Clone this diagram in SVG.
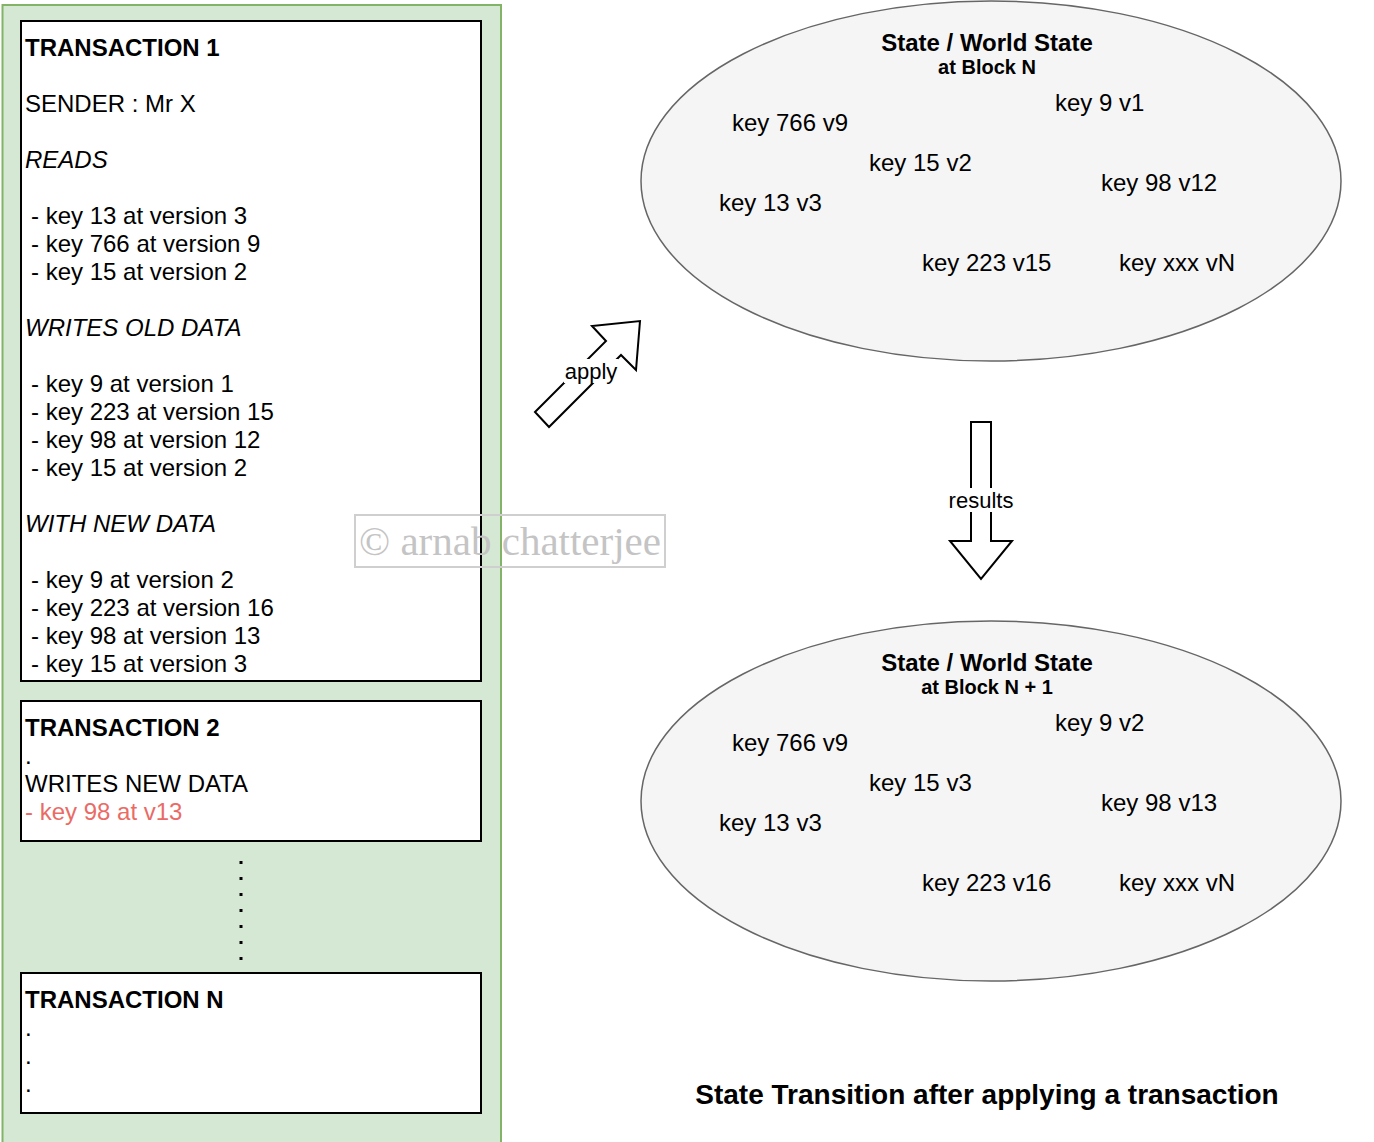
<svg xmlns="http://www.w3.org/2000/svg" width="1374" height="1142" viewBox="0 0 1374 1142">
<style>
text{font-family:"Liberation Sans",Arial,Helvetica,sans-serif;fill:#000}
.t{font-size:24px}
.b{font-weight:bold}
.i{font-style:italic}
.box{fill:#fff;stroke:#000;stroke-width:2}
.ell{fill:#f5f5f5;stroke:#666;stroke-width:1.5}
.arr{fill:#fff;stroke:#000;stroke-width:2;stroke-linejoin:miter}
.lbl{font-size:22px;text-anchor:middle}
.red{fill:#ea6b66}
</style>
<rect width="1374" height="1142" fill="#fff"/>
<g id="container">
<rect x="2.5" y="5" width="498.5" height="1145" fill="#d5e8d4" stroke="#82b366" stroke-width="2"/>
</g>
<g id="tx1">
<rect class="box" x="21" y="21" width="460" height="660"/>
<text class="t b" x="25" y="56">TRANSACTION 1</text>
<text class="t" x="25" y="112">SENDER : Mr X</text>
<text class="t i" x="25" y="168">READS</text>
<text class="t" x="31" y="224">- key 13 at version 3</text>
<text class="t" x="31" y="252">- key 766 at version 9</text>
<text class="t" x="31" y="280">- key 15 at version 2</text>
<text class="t i" x="25" y="336">WRITES OLD DATA</text>
<text class="t" x="31" y="392">- key 9 at version 1</text>
<text class="t" x="31" y="420">- key 223 at version 15</text>
<text class="t" x="31" y="448">- key 98 at version 12</text>
<text class="t" x="31" y="476">- key 15 at version 2</text>
<text class="t i" x="25" y="532">WITH NEW DATA</text>
<text class="t" x="31" y="588">- key 9 at version 2</text>
<text class="t" x="31" y="616">- key 223 at version 16</text>
<text class="t" x="31" y="644">- key 98 at version 13</text>
<text class="t" x="31" y="672">- key 15 at version 3</text>
</g>
<g id="tx2">
<rect class="box" x="21" y="701" width="460" height="140"/>
<text class="t b" x="25" y="736">TRANSACTION 2</text>
<text class="t" x="25" y="764">.</text>
<text class="t" x="25" y="792">WRITES NEW DATA</text>
<text class="t red" x="25" y="820">- key 98 at v13</text>
</g>
<g id="txN">
<rect class="box" x="21" y="973" width="460" height="140"/>
<text class="t b" x="25" y="1008">TRANSACTION N</text>
<text class="t" x="25" y="1036">.</text>
<text class="t" x="25" y="1064">.</text>
<text class="t" x="25" y="1092">.</text>
</g>
<g id="state-n">
<ellipse class="ell" cx="991" cy="181" rx="350" ry="180"/>
<text class="t b" x="987" y="51" text-anchor="middle">State / World State</text>
<text class="b" x="987" y="74" font-size="20" text-anchor="middle">at Block N</text>
<text class="t" x="1055" y="111">key 9 v1</text>
<text class="t" x="732" y="131">key 766 v9</text>
<text class="t" x="869" y="171">key 15 v2</text>
<text class="t" x="1101" y="191">key 98 v12</text>
<text class="t" x="719" y="211">key 13 v3</text>
<text class="t" x="922" y="271">key 223 v15</text>
<text class="t" x="1119" y="271">key xxx vN</text>
</g>
<g id="state-n1">
<ellipse class="ell" cx="991" cy="801" rx="350" ry="180"/>
<text class="t b" x="987" y="671" text-anchor="middle">State / World State</text>
<text class="b" x="987" y="694" font-size="20" text-anchor="middle">at Block N + 1</text>
<text class="t" x="1055" y="731">key 9 v2</text>
<text class="t" x="732" y="751">key 766 v9</text>
<text class="t" x="869" y="791">key 15 v3</text>
<text class="t" x="1101" y="811">key 98 v13</text>
<text class="t" x="719" y="831">key 13 v3</text>
<text class="t" x="922" y="891">key 223 v16</text>
<text class="t" x="1119" y="891">key xxx vN</text>
</g>
<g id="connectors">
<line x1="241" y1="861" x2="241" y2="961" stroke="#000" stroke-width="3" stroke-dasharray="3 13"/>
<g id="apply-arrow">
<polygon class="arr" points="535,412 606,341 592,326 640,321 636,370 621,355 549,427"/>
<rect x="564" y="359" width="54" height="24" fill="#fff"/>
<text class="lbl" x="591" y="379">apply</text>
</g>
<g id="results-arrow">
<polygon class="arr" points="971,422 991,422 991,541 1012,541 981,579 950,541 971,541"/>
<rect x="947" y="488" width="68" height="24" fill="#fff"/>
<text class="lbl" x="981" y="508">results</text>
</g>
</g>
<g id="watermark">
<rect x="355" y="515" width="310" height="52" fill="none" stroke="#cfcfcf" stroke-width="2"/>
<text x="510" y="555" text-anchor="middle" font-size="41" style="font-family:'Liberation Serif','Times New Roman',serif;fill:#c4c4c4">© arnab chatterjee</text>
</g>
<g id="caption">
<text class="b" x="987" y="1104" font-size="28" text-anchor="middle">State Transition after applying a transaction</text>
</g>
</svg>
